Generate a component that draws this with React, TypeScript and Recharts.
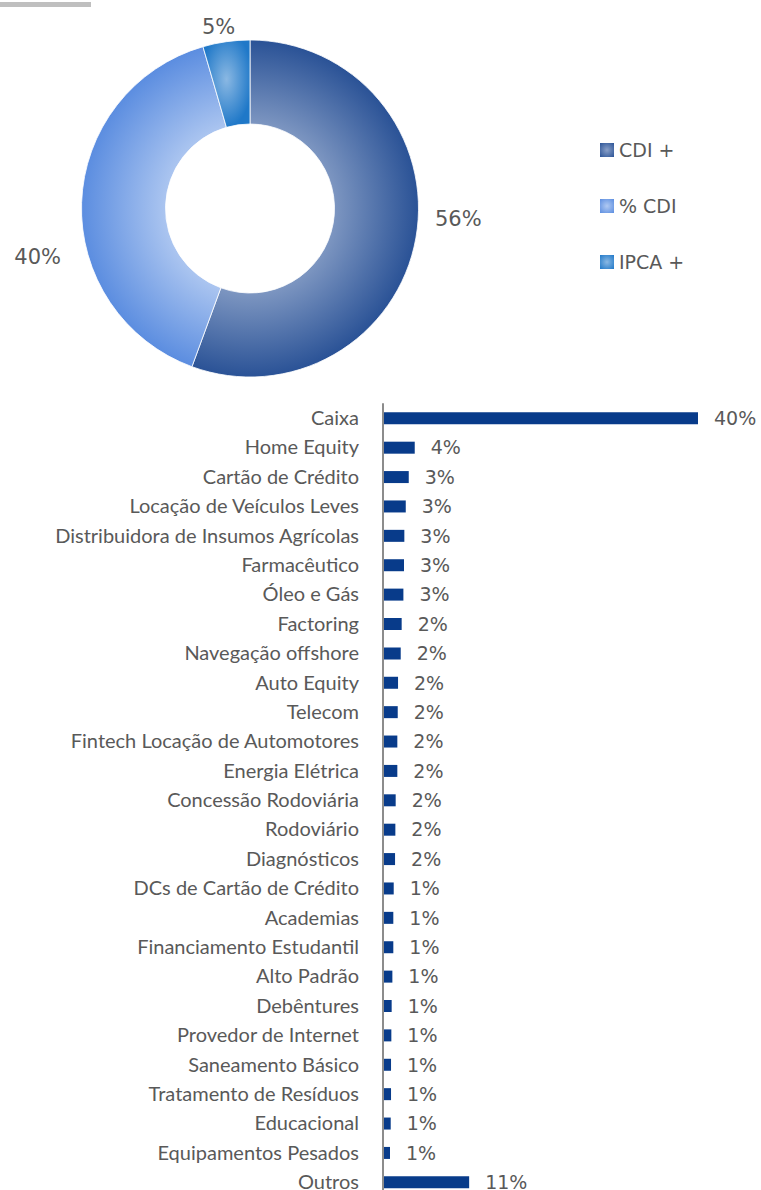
import React from "react"
import { PieChart, Pie, Cell, BarChart, Bar, XAxis, YAxis, LabelList } from "recharts"

// donut: type of indexer
const PIE_NAMES = ["CDI +", "% CDI", "IPCA +"]
const PIE_VALUES = [55.6, 39.9, 4.5]

// bar: allocation by sector (%)
const SECTORS = [
  "Caixa", "Home Equity", "Cartão de Crédito", "Locação de Veículos Leves",
  "Distribuidora de Insumos Agrícolas", "Farmacêutico", "Óleo e Gás", "Factoring",
  "Navegação offshore", "Auto Equity", "Telecom", "Fintech Locação de Automotores",
  "Energia Elétrica", "Concessão Rodoviária", "Rodoviário", "Diagnósticos",
  "DCs de Cartão de Crédito", "Academias", "Financiamento Estudantil", "Alto Padrão",
  "Debêntures", "Provedor de Internet", "Saneamento Básico", "Tratamento de Resíduos",
  "Educacional", "Equipamentos Pesados", "Outros",
]
const SHARES = [
  40.0, 4.03, 3.27, 2.89, 2.71, 2.67, 2.59, 2.37, 2.25, 1.91, 1.87, 1.82, 1.82,
  1.61, 1.57, 1.53, 1.36, 1.31, 1.31, 1.19, 1.10, 1.06, 1.02, 1.02, 0.98, 0.89, 10.94,
]

const GRAD_IDS = ["gCdiPlus", "gPctCdi", "gIpca"]
const SWATCH = [
  "radial-gradient(circle, #8aa0c8 0%, #2b5396 100%)",
  "radial-gradient(circle, #b0c9f2 0%, #5b8de0 100%)",
  "radial-gradient(circle, #8ab8e3 0%, #1f78c8 100%)",
]
// label nudges (dx, dy) from the radial spot
const LABEL_NUDGE = [[3, -26], [-4, 56], [-2, 25]]

const TEXT = "#595959"
const NUM_FONT = "'DejaVu Sans', sans-serif"
const RADIAN = Math.PI / 180

const pieData = PIE_NAMES.map((name, i) => ({ name, value: PIE_VALUES[i] }))
const barData = SECTORS.map((name, i) => ({ name, value: SHARES[i] }))

function pieLabel(props: any) {
  const { cx, cy, midAngle, outerRadius, index, value } = props
  const r = outerRadius + 40
  const x = cx + r * Math.cos(-midAngle * RADIAN) + LABEL_NUDGE[index][0]
  const y = cy + r * Math.sin(-midAngle * RADIAN) + LABEL_NUDGE[index][1]
  return (
    <text x={x} y={y} fill={TEXT} fontSize={21} fontFamily={NUM_FONT} textAnchor="middle" dominantBaseline="central">
      {Math.round(value)}%
    </text>
  )
}

export default function App() {
  return (
    <div style={{ position: "absolute", left: 0, top: 0, width: 761, height: 1190, overflow: "hidden", background: "#fff" }}>
      <div style={{ position: "absolute", left: 0, top: 2, width: 91, height: 5, background: "#bfbfbf" }} />

      <div style={{ position: "absolute", left: 0, top: 0 }}>
        <PieChart width={761} height={400} margin={{ top: 0, right: 0, bottom: 0, left: 0 }}>
          <defs>
            <radialGradient id="gCdiPlus" gradientUnits="userSpaceOnUse" cx={250} cy={208.5} r={168.5}>
              <stop offset="0.5" stopColor="#7d96c1" />
              <stop offset="1" stopColor="#2a5296" />
            </radialGradient>
            <radialGradient id="gPctCdi" gradientUnits="userSpaceOnUse" cx={250} cy={208.5} r={168.5}>
              <stop offset="0.5" stopColor="#abc5f0" />
              <stop offset="1" stopColor="#5b8de0" />
            </radialGradient>
            <radialGradient id="gIpca" cx="50%" cy="45%" r="55%">
              <stop offset="0" stopColor="#8ab8e3" />
              <stop offset="1" stopColor="#1f78c8" />
            </radialGradient>
          </defs>
          <Pie
            data={pieData}
            dataKey="value"
            nameKey="name"
            cx={250}
            cy={208.5}
            innerRadius={84.5}
            outerRadius={168.5}
            startAngle={90}
            endAngle={-270}
            stroke="#ffffff"
            strokeWidth={0.8}
            label={pieLabel}
            labelLine={false}
            isAnimationActive={false}
          >
            {pieData.map((_, i) => <Cell key={i} fill={`url(#${GRAD_IDS[i]})`} />)}
          </Pie>
        </PieChart>
      </div>

      <div style={{ position: "absolute", left: 600, top: 121.5, fontFamily: NUM_FONT, fontSize: 19, color: TEXT }}>
        {PIE_NAMES.map((n, i) => (
          <div key={n} style={{ height: 56, display: "flex", alignItems: "center" }}>
            <span style={{ width: 14, height: 14, background: SWATCH[i], marginRight: 5, display: "inline-block" }} />
            <span>{n}</span>
          </div>
        ))}
      </div>

      <div style={{ position: "absolute", left: 0, top: 394.5 }}>
        <BarChart
          width={761}
          height={805}
          data={barData}
          layout="vertical"
          margin={{ top: 8.3, right: 0, bottom: 3.3, left: 0 }}
          barCategoryGap={0}
        >
          <XAxis type="number" domain={[0, 48]} hide />
          <YAxis
            type="category"
            dataKey="name"
            width={383}
            interval={0}
            tickLine={false}
            tickSize={6}
            tickMargin={18}
            axisLine={{ stroke: "#8c8c8c", strokeWidth: 2 }}
            tick={{ fill: TEXT, fontSize: 20, fontFamily: "Lato, sans-serif" }}
          />
          <Bar dataKey="value" fill="#083b8a" barSize={12} isAnimationActive={false}>
            <LabelList
              dataKey="value"
              position="right"
              offset={16}
              formatter={(v: any) => `${Math.round(Number(v))}%`}
              style={{ fill: TEXT, fontSize: 19, fontFamily: NUM_FONT }}
            />
          </Bar>
        </BarChart>
      </div>
    </div>
  )
}
